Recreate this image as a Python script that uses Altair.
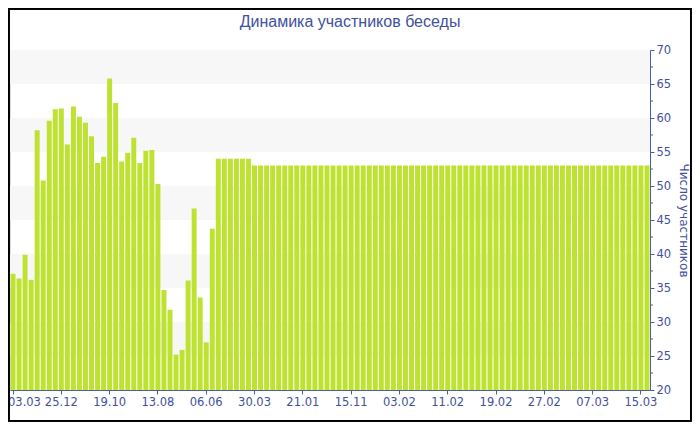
import altair as alt
import pandas as pd

# participant counts, one bar each
values = [
    37.1, 36.4, 39.9, 36.2, 58.2, 50.8, 59.6, 61.3, 61.4, 56.1,
    61.7, 60.2, 59.3, 57.3, 53.4, 54.3, 65.8, 62.2, 53.6, 54.9,
    57.1, 53.4, 55.2, 55.3, 50.3, 34.7, 31.8, 25.2, 25.9, 36.1,
    46.7, 33.6, 27.0, 43.7, 54, 54, 54, 54, 54, 54,
    53, 53, 53, 53, 53, 53, 53, 53, 53, 53,
    53, 53, 53, 53, 53, 53, 53, 53, 53, 53,
    53, 53, 53, 53, 53, 53, 53, 53, 53, 53,
    53, 53, 53, 53, 53, 53, 53, 53, 53, 53,
    53, 53, 53, 53, 53, 53, 53, 53, 53, 53,
    53, 53, 53, 53, 53, 53, 53, 53, 53, 53,
    53, 53, 53, 53, 53, 53,
]

tick_labels = ["03.03", "25.12", "19.10", "13.08", "06.06", "30.03", "21.01",
               "15.11", "03.02", "11.02", "19.02", "27.02", "07.03", "15.03"]
tick_positions = [0, 8, 16, 24, 32, 40, 48, 56, 64, 72, 80, 88, 96, 104]

band_lo = [25, 35, 45, 55, 65]
band_hi = [30, 40, 50, 60, 70]
major_ticks = [20, 25, 30, 35, 40, 45, 50, 55, 60, 65, 70]
minor_ticks = [22.5, 27.5, 32.5, 37.5, 42.5, 47.5, 52.5, 57.5, 62.5, 67.5]

title_text = ["Динамика участников беседы"]

df = pd.DataFrame({"i": list(range(len(values))), "v": values})
bands = pd.DataFrame({"lo": band_lo, "hi": band_hi})
minor = pd.DataFrame({"m": minor_ticks})
tdf = pd.DataFrame({"t": title_text})

W, H = 640, 340
BLUE = "#4a5ea6"
TXT = "#3f519c"
FONT = "DejaVu Sans"

yscale = alt.Scale(domain=[20, 70], nice=False, zero=False)
yaxis = alt.Axis(
    orient="right", values=major_ticks, title="Число участников",
    titleFont=FONT, titleFontSize=12, titleFontWeight="normal", titleColor=TXT,
    titlePadding=6, titleAngle=90,
    labelFont=FONT, labelFontSize=11.5, labelColor=TXT, labelPadding=2,
    domainColor=BLUE, tickColor=BLUE, tickSize=4, grid=False,
)

label_expr = "[" + ",".join("'%s'" % t for t in tick_labels) + "][datum.value/8]"
xaxis = alt.Axis(
    values=tick_positions, labelExpr=label_expr, labelAngle=0, title=None,
    labelFont=FONT, labelFontSize=11.5, labelColor=TXT, labelPadding=2,
    labelFlush=5, labelFlushOffset=5,
    domainColor=BLUE, tickColor=BLUE, tickSize=4, grid=False, labelOverlap=False,
)

band_layer = alt.Chart(bands).mark_rect(color="#f7f7f7").encode(
    x=alt.value(0), x2=alt.value(W),
    y=alt.Y("lo:Q", scale=yscale, axis=yaxis), y2="hi:Q",
)

bars = alt.Chart(df).mark_bar(color="#bde230").encode(
    x=alt.X("i:O", scale=alt.Scale(paddingInner=0.18, paddingOuter=0.09), axis=xaxis),
    y=alt.Y("v:Q", scale=yscale, axis=yaxis),
    y2=alt.datum(20),
)

minor_layer = alt.Chart(minor).mark_rule(color=BLUE).encode(
    y=alt.Y("m:Q", scale=yscale, axis=yaxis),
    x=alt.value(W), x2=alt.value(W + 3),
)

title_layer = alt.Chart(tdf).mark_text(
    font="Liberation Sans", fontSize=16, color=TXT,
    align="center", baseline="middle",
).encode(text="t:N", x=alt.value(340), y=alt.value(-28))

border = alt.Chart(bands).mark_rect(filled=False, stroke="#000000", strokeWidth=1.5).encode(
    x=alt.value(-1.25), x2=alt.value(W + 40.75),
    y=alt.value(-41.25), y2=alt.value(H + 30.75),
)

chart = alt.layer(band_layer, bars, minor_layer, title_layer, border).properties(
    width=W, height=H,
    autosize=alt.AutoSizeParams(type="none"),
    padding={"left": 2, "top": 42, "right": 42, "bottom": 32},
).configure_view(stroke=None).configure(background="white")

chart.save("out.html", embed_options={"renderer": "svg", "actions": False})
